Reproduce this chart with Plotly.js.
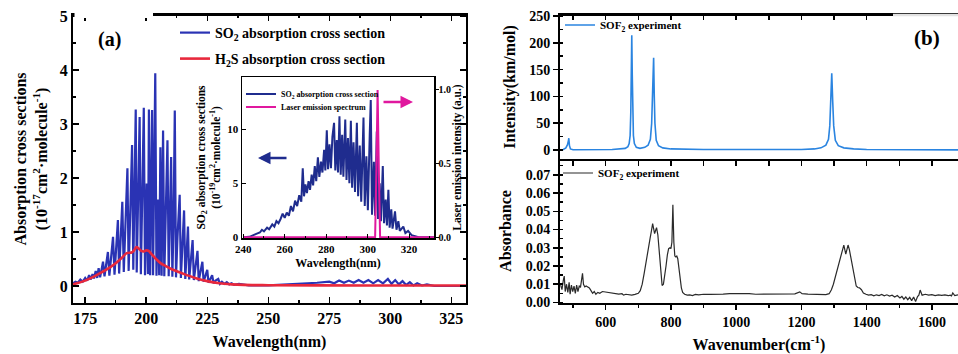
<!DOCTYPE html>
<html>
<head>
<meta charset="utf-8">
<script src="https://cdn.plot.ly/plotly-3.0.1.min.js"></script>
<style>html,body{margin:0;padding:0;background:#fff;}#chart{width:958px;height:354px;}</style>
</head>
<body>
<div id="chart"></div>
<script>
// ---------- Panel (a): main spectrum ----------
const so2Wavelength = [170,171,172,173,174,175,175.8,176.6,177.3,178.0,178.6,179.3,179.9,180.5,181.1,181.7,182.3,182.9,183.5,184.3,184.9,185.5,186.4,187.0,187.6,188.4,188.9,189.5,190.2,190.8,191.5,192.3,192.8,193.5,194.2,194.7,195.2,195.7,196.1,196.7,197.3,197.8,198.4,199.0,199.5,200.2,200.7,201.1,201.6,202.0,202.4,202.8,203.3,203.7,204.2,204.9,205.3,205.8,206.3,206.9,207.4,208.0,208.7,209.2,209.7,210.2,210.7,211.2,211.7,212.2,212.8,213.7,214.2,214.8,215.5,216.0,216.5,217.1,217.6,218.2,219.0,219.5,220.1,221.0,221.5,222.2,223.0,223.5,224.2,225.0,225.5,226.2,227.0,227.6,228.4,229.5,230.2,231,232,233,234,235,236,238,242,250,255,260,265,270,275,277,279,281,283,285,287,289,291,293,295,297,299,300.5,302,303.5,305,306.5,308,309.5,311,313,315,318,331];
const so2Cross = [0.05,0.08,0.06,0.12,0.08,0.15,0.10,0.20,0.12,0.22,0.14,0.28,0.15,0.33,0.16,0.30,0.45,0.18,0.40,0.63,0.19,0.50,0.91,0.21,0.65,1.22,0.23,0.85,1.56,0.26,1.10,2.18,0.28,1.40,2.61,0.30,1.60,3.27,0.25,1.80,3.13,0.22,1.70,3.30,0.20,1.90,0.22,3.27,0.20,2.10,3.26,0.20,1.80,3.94,0.19,1.60,0.20,2.57,0.19,2.88,0.18,1.40,2.70,0.18,1.30,2.39,0.17,1.20,3.25,0.16,0.90,1.69,0.15,0.70,1.40,0.13,0.55,1.10,0.12,0.45,0.85,0.11,0.35,0.65,0.09,0.28,0.45,0.08,0.20,0.30,0.06,0.14,0.20,0.05,0.10,0.13,0.04,0.08,0.04,0.07,0.03,0.05,0.02,0.04,0.01,0.01,0.02,0.03,0.05,0.06,0.08,0.05,0.10,0.06,0.10,0.06,0.11,0.06,0.11,0.05,0.11,0.05,0.13,0.04,0.11,0.03,0.09,0.02,0.07,0.01,0.05,0.01,0.03,0.00,0.00];
const h2sWavelength = [170,175,180,185,188,190,192,194,195,196,197,198,199,200,201,202,204,206,208,210,215,220,225,230,235,240,250,270,300,331];
const h2sCross = [0.03,0.10,0.21,0.34,0.44,0.52,0.61,0.62,0.66,0.72,0.69,0.65,0.64,0.66,0.65,0.60,0.50,0.42,0.37,0.32,0.23,0.15,0.09,0.05,0.03,0.02,0.015,0.012,0.01,0.01];

// ---------- Panel (a): inset ----------
const insetWavelength = [240,243,246,248,249,250,251.5,252.5,254,255,256,257,258,259,260,261,262,263,264,265,266,267,268,268.7,269.3,270,270.7,271.5,272.2,273,273.7,274.5,275.2,276,276.7,277.5,278.2,279,279.6,280.3,280.9,281.6,282.3,283,283.8,284.4,285.1,285.7,286.4,287.0,287.7,288.3,289.2,289.8,290.5,291.2,291.9,292.5,293.2,293.9,294.8,295.4,296.2,296.9,298.0,298.6,299.4,300.1,301.0,301.5,302.1,303.0,303.6,304.4,305.0,305.8,306.4,307.3,307.9,308.7,309.3,310.0,310.6,311.4,312.0,313.2,313.9,314.8,315.5,317.2,318.2,319.5,321.2,325,332];
const insetSo2 = [0,0.05,0.3,0.45,0.7,0.55,0.9,0.75,1.2,1.0,1.5,1.3,1.7,2.2,1.8,2.3,2.0,2.9,2.4,3.4,2.9,3.9,3.3,6.4,3.8,4.9,4.1,5.2,4.4,5.8,4.8,6.6,5.2,7.4,5.6,7.0,6.0,8.1,6.2,9.9,6.3,8.6,6.4,9.3,10.6,6.2,9.0,6.0,11.2,5.8,9.5,5.6,10.9,5.3,9.2,5.0,10.8,4.6,8.8,4.2,10.6,3.8,8.5,3.3,11.1,2.9,7.5,2.5,9.5,12.7,2.1,7.0,2.0,9.8,1.7,5.0,1.5,6.6,1.3,3.5,1.1,4.4,0.9,2.6,0.8,2.4,0.7,1.5,0.6,1.0,0.4,0.6,0.2,0,0];
const laserWavelength = [240,303.6,304.2,304.8,305.4,306.0,332];
const laserIntensity = [0,0,0.45,1.0,0.45,0,0];

// ---------- Panel (b): calculated / experimental ----------
const sofCalcWavenumber = [460,470,478,483,486,487,489,492,500,560,620,660,668,672,675,677,678.5,680,681.5,683,685,688,694,705,720,730,737,741,743,745,747,749,751,755,762,775,800,900,1000,1100,1200,1240,1260,1275,1283,1287,1290,1293,1296,1299,1304,1313,1330,1360,1400,1500,1680];
const sofCalcIntensity = [0,1,4,10,18,22,8,2,0.5,0.5,1,3,6,12,27,70,140,214,140,70,27,12,5,3,5,9,20,50,100,140,172,100,50,18,8,4,2,1,0.8,0.8,1,2,4,9,20,45,90,143,90,45,18,8,4,2,1,0.5,0.3];
const sofExpWavenumber = [462,466,470,473,476,480,484,488,491,495,499,503,507,511,515,519,523,526,529,532,536,540,545,550,555,560,565,570,576,582,590,600,610,620,630,640,650,655,662,670,680,690,700,706,712,718,724,730,736,740,744,747,750,753,756,760,764,768,773,777,781,785,789,793,797,800,803,806,809,812,815,818,821,824,828,832,836,842,850,858,866,875,885,900,920,940,960,980,1000,1020,1040,1060,1080,1100,1120,1140,1160,1180,1195,1202,1220,1240,1260,1275,1285,1292,1298,1304,1310,1316,1322,1327,1330,1336,1340,1343,1347,1351,1355,1360,1364,1368,1373,1378,1384,1390,1398,1406,1414,1422,1430,1438,1446,1454,1462,1470,1478,1486,1494,1502,1508,1514,1520,1526,1532,1538,1544,1550,1556,1560,1564,1570,1580,1590,1600,1610,1620,1630,1640,1650,1656,1660,1664,1670,1680];
const sofExpAbsorbance = [0.0095,0.0070,0.0120,0.0145,0.0060,0.0100,0.0055,0.0110,0.0045,0.0095,0.0060,0.0090,0.0050,0.0095,0.0060,0.0090,0.0085,0.0120,0.0160,0.0100,0.0085,0.0090,0.0085,0.0080,0.0065,0.0050,0.0060,0.0045,0.0055,0.0050,0.0060,0.0057,0.0055,0.0052,0.0050,0.0046,0.0048,0.0040,0.0045,0.0042,0.0040,0.0044,0.0050,0.0065,0.0100,0.0160,0.0230,0.0300,0.0350,0.0390,0.0432,0.0405,0.0378,0.0395,0.0410,0.0370,0.0290,0.0190,0.0093,0.0100,0.0140,0.0200,0.0260,0.0295,0.0300,0.0295,0.0330,0.0536,0.0330,0.0255,0.0250,0.0255,0.0240,0.0190,0.0130,0.0080,0.0055,0.0045,0.0040,0.0042,0.0038,0.0044,0.0042,0.0045,0.0044,0.0047,0.0046,0.0048,0.0049,0.0047,0.0048,0.0045,0.0046,0.0045,0.0047,0.0046,0.0048,0.0047,0.0058,0.0048,0.0046,0.0045,0.0044,0.0043,0.0048,0.0070,0.0100,0.0140,0.0180,0.0220,0.0265,0.0300,0.0315,0.0265,0.0300,0.0315,0.0290,0.0250,0.0210,0.0170,0.0120,0.0090,0.0082,0.0080,0.0070,0.0052,0.0045,0.0040,0.0043,0.0036,0.0042,0.0038,0.0044,0.0036,0.0042,0.0035,0.0040,0.0030,0.0038,0.0025,0.0033,0.0018,0.0030,0.0015,0.0028,0.0010,0.0030,0.0005,0.0032,0.0040,0.0068,0.0040,0.0045,0.0040,0.0043,0.0038,0.0042,0.0039,0.0041,0.0037,0.0040,0.0036,0.0052,0.0038,0.0042,0.0040];

const FONT = 'Liberation Serif, Times New Roman, serif';
const f = (size) => ({family: FONT, size: size, color: '#000', weight: 'bold'});
const W = 958, H = 354;
const px = (v) => v / W;
const py = (v) => 1 - v / H;

const traces = [
  {x: so2Wavelength, y: so2Cross, xaxis: 'x', yaxis: 'y', mode: 'lines', name: 'SO<sub>2</sub> absorption cross section',
   line: {color: '#2a33b4', width: 2.2}, legend: 'legend'},
  {x: h2sWavelength, y: h2sCross, xaxis: 'x', yaxis: 'y', mode: 'lines', name: 'H<sub>2</sub>S absorption cross section',
   line: {color: '#e8283c', width: 2.6, shape: 'spline'}, legend: 'legend5'},
  {x: insetWavelength, y: insetSo2, xaxis: 'x2', yaxis: 'y2', mode: 'lines', name: 'SO<sub>2</sub> absorption cross section',
   line: {color: '#1f2c8e', width: 2}, legend: 'legend2'},
  {x: laserWavelength, y: laserIntensity, xaxis: 'x2', yaxis: 'y3', mode: 'lines', name: 'Laser emission spectrum',
   line: {color: '#e0189e', width: 2}, legend: 'legend6'},
  {x: sofCalcWavenumber, y: sofCalcIntensity, xaxis: 'x3', yaxis: 'y4', mode: 'lines', name: 'SOF<sub>2</sub> experiment',
   line: {color: '#2a84e0', width: 1.6}, legend: 'legend3'},
  // invisible helper: gives panel (b)'s top frame axis a subplot so its ticks are drawn
  {x: sofCalcWavenumber, y: sofCalcIntensity, xaxis: 'x5', yaxis: 'y4', mode: 'lines', showlegend: false, hoverinfo: 'skip',
   opacity: 0, line: {width: 0}},
  {x: sofExpWavenumber, y: sofExpAbsorbance, xaxis: 'x4', yaxis: 'y5', mode: 'lines', name: 'SOF<sub>2</sub> experiment',
   line: {color: '#2a2a2a', width: 1.2}, legend: 'legend4'}
];

const axBase = {showline: true, linecolor: '#000', showgrid: false, zeroline: false, ticks: 'inside', tickcolor: '#000', automargin: false};
const leg = (x, y, size) => ({x: px(x), y: py(y), xanchor: 'left', yanchor: 'middle', bgcolor: 'rgba(0,0,0,0)', font: f(size), borderwidth: 0});

const layout = {
  width: W, height: H,
  margin: {l: 0, r: 0, t: 0, b: 0},
  paper_bgcolor: '#fff', plot_bgcolor: 'rgba(0,0,0,0)',
  showlegend: true,
  xaxis: Object.assign({}, axBase, {domain: [px(73), px(466)], anchor: 'y', range: [170, 331], linewidth: 2, mirror: 'ticks',
    tick0: 175, dtick: 25, ticklen: 6, tickwidth: 1.5, tickfont: f(16),
    minor: {ticks: 'inside', ticklen: 3, dtick: 12.5, tick0: 175, tickcolor: '#000'},
    title: {text: 'Wavelength(nm)', font: f(16), standoff: 10}}),
  yaxis: Object.assign({}, axBase, {domain: [py(303), py(15)], anchor: 'x', range: [-0.315, 5.02], linewidth: 2, mirror: 'ticks',
    dtick: 1, ticklen: 6, tickwidth: 1.5, tickfont: f(16),
    minor: {ticks: 'inside', ticklen: 3, dtick: 0.5, tickcolor: '#000'},
    title: {text: 'Absorption cross sections<br>(10<sup>-17</sup>cm<sup>2</sup>·molecule<sup>-1</sup>)', font: f(16), standoff: 8}}),
  xaxis2: Object.assign({}, axBase, {domain: [px(242), px(434)], anchor: 'y2', range: [239.4, 332], linewidth: 1.5, mirror: true,
    tick0: 240, dtick: 20, ticklen: 4, tickfont: f(11),
    minor: {ticks: 'inside', ticklen: 2, dtick: 10, tickcolor: '#000'},
    title: {text: 'Wavelength(nm)', font: f(12), standoff: 5}}),
  yaxis2: Object.assign({}, axBase, {domain: [py(238), py(77)], anchor: 'x2', range: [-0.06, 14.84], linewidth: 1.5,
    dtick: 5, ticklen: 4, tickfont: f(11),
    title: {text: 'SO<sub>2</sub> absorption cross sections<br>(10<sup>-19</sup>cm<sup>2</sup>·molecule<sup>-1</sup>)', font: f(11.5), standoff: 4}}),
  yaxis3: Object.assign({}, axBase, {overlaying: 'y2', side: 'right', anchor: 'x2', range: [-0.005, 1.088], linewidth: 1.5,
    dtick: 0.5, tickformat: '.1f', ticks: 'outside', ticklen: 3, tickfont: f(10), ticklabelstandoff: -2,
    title: {text: 'Laser emission intensity (a.u.)', font: f(11.5), standoff: 0}}),
  xaxis3: Object.assign({}, axBase, {domain: [px(560), 1], anchor: 'y4', range: [460, 1680], linewidth: 2,
    ticks: 'outside', dtick: 100, tick0: 500, ticklen: 5, tickwidth: 1.5, showticklabels: false}),
  xaxis5: Object.assign({}, axBase, {domain: [px(560), 1], side: 'top', anchor: 'y4', range: [460, 1680], linewidth: 2,
    tickmode: 'array', tickvals: [500,600,700,800,900,1000,1100,1200,1300,1400], ticklen: 5, tickwidth: 1.5, showticklabels: false}),
  yaxis4: Object.assign({}, axBase, {domain: [py(159), py(15)], anchor: 'x3', range: [-16.8, 251.9], linewidth: 2,
    ticks: 'outside', dtick: 50, ticklen: 5, tickwidth: 1.5, tickfont: f(14),
    minor: {ticks: 'inside', ticklen: 3, dtick: 25, tickcolor: '#000'},
    title: {text: 'Intensity(km/mol)', font: f(16), standoff: 10}}),
  xaxis4: Object.assign({}, axBase, {domain: [px(560), 1], anchor: 'y5', range: [460, 1680], linewidth: 2,
    ticks: 'outside', dtick: 200, tick0: 600, ticklen: 5, tickwidth: 1.5, tickfont: f(14),
    minor: {ticks: 'outside', ticklen: 3, dtick: 100, tickcolor: '#000'},
    title: {text: 'Wavenumber(cm<sup>-1</sup>)', font: f(16), standoff: 12}}),
  yaxis5: Object.assign({}, axBase, {domain: [py(303), py(159)], anchor: 'x4', range: [-0.0003, 0.0787], linewidth: 2,
    ticks: 'outside', dtick: 0.01, tickformat: '.2f', ticklen: 5, tickwidth: 1.5, tickfont: f(14),
    minor: {ticks: 'inside', ticklen: 3, dtick: 0.005, tickcolor: '#000'},
    title: {text: 'Absorbance', font: f(16), standoff: 10}}),
  legend: leg(175, 33, 14),
  legend5: leg(175, 59, 14),
  legend2: leg(241, 94, 8),
  legend6: leg(241, 107, 8),
  legend3: leg(560, 25, 11),
  legend4: leg(558, 173, 11),
  annotations: [
    {text: '(a)', xref: 'paper', yref: 'paper', x: px(109), y: py(40), xanchor: 'center', yanchor: 'middle', showarrow: false, font: f(20)},
    {text: '(b)', xref: 'paper', yref: 'paper', x: px(927), y: py(38), xanchor: 'center', yanchor: 'middle', showarrow: false, font: f(21)},
    {text: '', xref: 'paper', yref: 'paper', x: px(258), y: py(158), ax: 30, ay: 0, showarrow: true,
     arrowhead: 2, arrowsize: 1, arrowwidth: 2.5, arrowcolor: '#1f2c8e'},
    {text: '', xref: 'paper', yref: 'paper', x: px(413), y: py(102), ax: -31, ay: 0, showarrow: true,
     arrowhead: 2, arrowsize: 1, arrowwidth: 2.5, arrowcolor: '#e0189e'}
  ],
  shapes: [
    // frame top borders
    {type: 'line', xref: 'paper', yref: 'paper', x0: px(153), x1: px(467), y0: py(15), y1: py(15),
     line: {color: '#000', width: 2}, layer: 'above'},
    {type: 'line', xref: 'paper', yref: 'paper', x0: px(559), x1: px(893), y0: py(15), y1: py(15),
     line: {color: '#000', width: 2}, layer: 'above'},
    {type: 'rect', xref: 'paper', yref: 'paper', x0: px(74.5), x1: px(153), y0: py(18), y1: py(11),
     fillcolor: '#fff', line: {width: 0}, layer: 'above'},
    {type: 'line', xref: 'paper', yref: 'paper', x0: px(893), x1: 1, y0: py(15), y1: py(15),
     line: {color: '#e2e2e2', width: 2.5}, layer: 'above'}
  ]
};

Plotly.newPlot('chart', traces, layout, {staticPlot: true, displayModeBar: false});
</script>
</body>
</html>
